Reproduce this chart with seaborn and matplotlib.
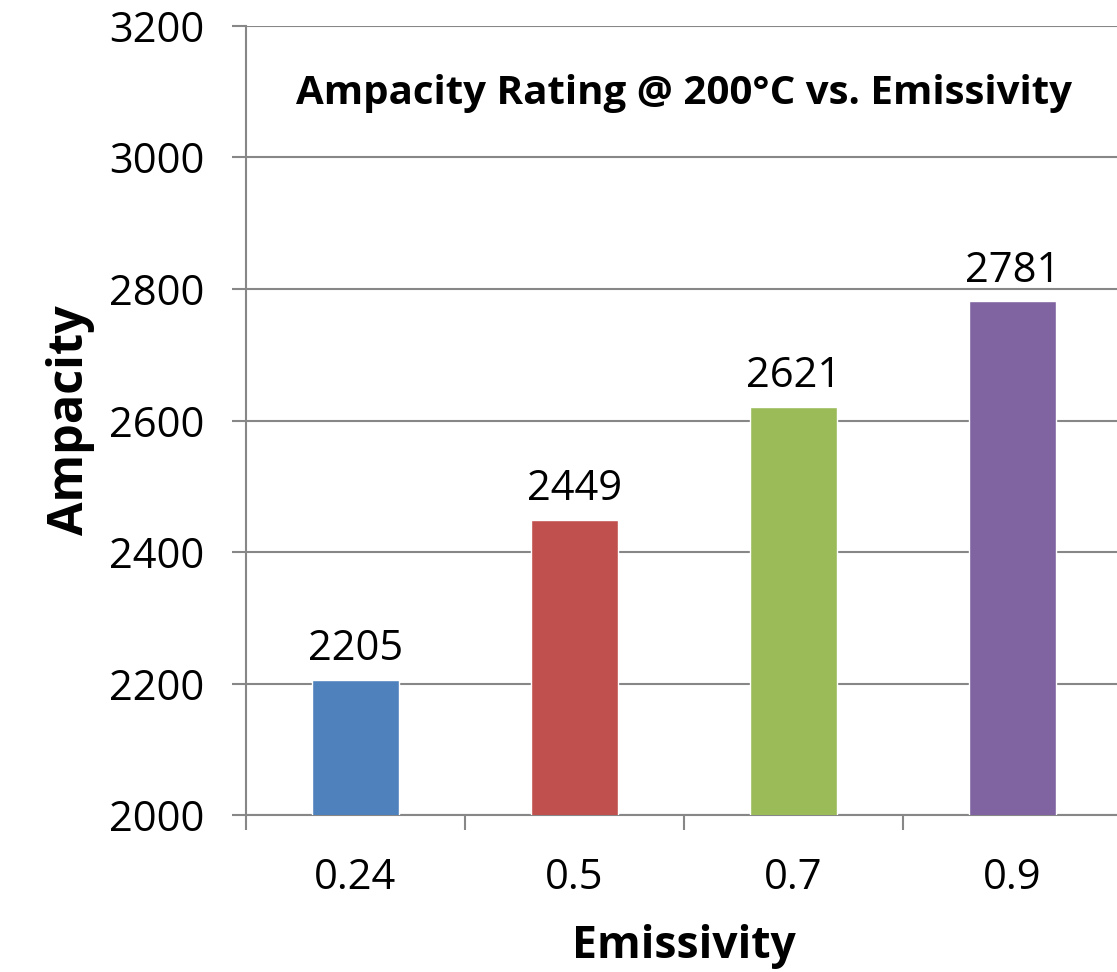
import matplotlib
matplotlib.use("Agg")
import matplotlib.pyplot as plt
import seaborn as sns
import pandas as pd
from matplotlib.ticker import FixedLocator

# Ampacity rating at 200 °C for each surface emissivity
emissivity = ["0.24", "0.5", "0.7", "0.9"]
ampacity = [2205, 2449, 2621, 2781]
bar_colors = ["#4F81BD", "#C0504D", "#9BBB59", "#8064A2"]
y_ticks = [2000, 2200, 2400, 2600, 2800, 3000, 3200]

sns.set_theme(style="white")
plt.rcParams["font.family"] = ["Open Sans", "DejaVu Sans"]
plt.rcParams["text.color"] = "black"
plt.rcParams["axes.labelcolor"] = "black"
plt.rcParams["xtick.color"] = "black"
plt.rcParams["ytick.color"] = "black"

df = pd.DataFrame({"Emissivity": emissivity, "Ampacity": ampacity})

fig = plt.figure(figsize=(11.17, 9.72), dpi=100)
ax = fig.add_axes([246 / 1117, 157 / 972, 876 / 1117, 789 / 972])

sns.barplot(data=df, x="Emissivity", y="Ampacity", hue="Emissivity",
            palette=bar_colors, legend=False, width=0.40, saturation=1,
            ax=ax, zorder=3)

grid_color = "#878787"
ax.set_ylim(2000, 3200)
ax.set_xlim(-0.5, 3.5)
ax.set_yticks(y_ticks)
ax.yaxis.grid(True, color=grid_color, linewidth=1.5, zorder=0)
ax.set_axisbelow(True)

for side in ["top", "right"]:
    ax.spines[side].set_visible(False)
for side in ["left", "bottom"]:
    ax.spines[side].set_color(grid_color)
    ax.spines[side].set_linewidth(1.5)

ax.tick_params(axis="y", which="major", length=10, width=1.5, color=grid_color,
               pad=20, labelsize=30, left=True, labelcolor="black")
ax.tick_params(axis="x", which="major", length=0, pad=30, labelsize=30,
               labelcolor="black")
ax.xaxis.set_minor_locator(FixedLocator([-0.5, 0.5, 1.5, 2.5, 3.5]))
ax.tick_params(axis="x", which="minor", length=11, width=1.5, color=grid_color,
               bottom=True)

for patch, val in zip(ax.patches, ampacity):
    ax.annotate(f"{val}", (patch.get_x() + patch.get_width() / 2, val),
                xytext=(0, 7), textcoords="offset points",
                ha="center", va="bottom", fontsize=30, color="black")

ax.set_xlabel("Emissivity", fontsize=32, fontweight="bold", labelpad=18,
              color="black")
ax.set_ylabel("Ampacity", fontsize=35, fontweight="bold", labelpad=10,
              color="black")
ax.text(0.5, 0.915, "Ampacity Rating @ 200°C vs. Emissivity",
        transform=ax.transAxes, ha="center", va="center",
        fontsize=29, fontweight="bold", color="black")

fig.savefig("out.png", dpi=100)
